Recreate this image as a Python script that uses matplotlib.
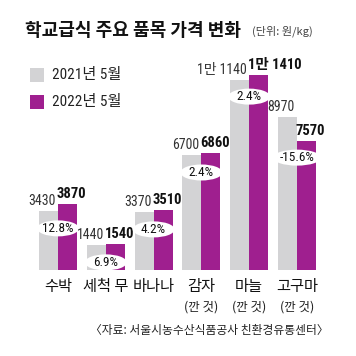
import matplotlib
matplotlib.use("Agg")
import matplotlib.pyplot as plt
from matplotlib import font_manager as fm
from matplotlib.patches import Ellipse, Rectangle
import numpy as np

categories = ["수박", "세척 무", "바나나", "감자", "마늘", "고구마"]
sub_labels = ["", "", "", "(깐 것)", "(깐 것)", "(깐 것)"]
v2021 = [3430, 1440, 3370, 6700, 11140, 8970]
v2022 = [3870, 1540, 3510, 6860, 11410, 7570]
lbl2021 = ["3430", "1440", "3370", "6700", "1만 1140", "8970"]
lbl2022 = ["3870", "1540", "3510", "6860", "1만 1410", "7570"]
pct = ["12.8%", "6.9%", "4.2%", "2.4%", "2.4%", "-15.6%"]
legend_labels = ["2021년 5월", "2022년 5월"]
title = "학교급식 주요 품목 가격 변화"
unit = "(단위: 원/kg)"
source = "〈자료: 서울시농수산식품공사 친환경유통센터〉"

GRAY = "#d3d3d5"
PURPLE = "#9f1f8f"

names = {f.name for f in fm.fontManager.ttflist}
cond = None
for n in ["Liberation Sans Narrow", "DejaVu Sans Condensed", "Roboto Condensed", "Open Sans Condensed"]:
    if n in names:
        cond = n
        break
NUMF = [cond, "Noto Sans CJK KR"] if cond else ["Noto Sans CJK KR"]
KR = ["Noto Sans CJK KR", "DejaVu Sans"]

W = H = 356
fig = plt.figure(figsize=(3.56, 3.56), dpi=100)
fig.patch.set_facecolor("white")

def fx(px):
    return px / W

def fy(py):
    return 1 - py / H

spacing = 47.8
x0 = 58
base = 270
scale = 195 / 11410  # px per unit
ax = fig.add_axes([0, fy(base), 1, base / H])
ax.set_xlim(-x0 / spacing, (W - x0) / spacing)
ax.set_ylim(0, base / scale)
ax.axis("off")

x = np.arange(len(categories))
bw = 19 / spacing
ax.bar(x - bw / 2, v2021, width=bw, color=GRAY, linewidth=0)
ax.bar(x + bw / 2, v2022, width=bw, color=PURPLE, linewidth=0)

unit_px = 1 / scale
for i in range(len(categories)):
    ax.text(x[i] - 2 / spacing, v2021[i] + 3 * unit_px, lbl2021[i], ha="right", va="bottom",
            fontsize=10, color="#333333", family=NUMF)
    ax.text(x[i] - 1 / spacing, v2022[i] + 3 * unit_px, lbl2022[i], ha="left", va="bottom",
            fontsize=10.5, color="#111111", fontweight="bold", family=NUMF)
    ylab = min(v2021[i], v2022[i]) - 17 * unit_px
    ew = (42 if len(pct[i]) < 6 else 48) / spacing
    ax.add_patch(Ellipse((x[i], ylab), ew, 16 * unit_px, facecolor="white", edgecolor="none", zorder=3))
    ax.text(x[i], ylab, pct[i], ha="center", va="center", fontsize=9.5, color="#111111",
            family=NUMF, zorder=4)
    px_c = x0 + spacing * i
    fig.text(fx(px_c), fy(286), categories[i], ha="center", va="center", fontsize=11,
             color="#111111", family=KR)
    if sub_labels[i]:
        fig.text(fx(px_c), fy(307), sub_labels[i], ha="center", va="center", fontsize=9,
                 color="#222222", family=KR)

fig.text(fx(25), fy(30), title, ha="left", va="center", fontsize=13, fontweight="bold",
         color="#111111", family=KR)
fig.text(fx(252), fy(31), unit, ha="left", va="center", fontsize=8, color="#444444", family=KR)

for j, (lab, c) in enumerate(zip(legend_labels, [GRAY, PURPLE])):
    top = 68 + j * 27
    fig.add_artist(Rectangle((fx(30), fy(top + 14)), 14 / W, 14 / H, transform=fig.transFigure,
                             facecolor=c, edgecolor="none"))
    fig.text(fx(52), fy(top + 7), lab, ha="left", va="center", fontsize=11, color="#222222",
             family=NUMF)

fig.text(fx(329), fy(330), source, ha="right", va="center", fontsize=8.5, color="#222222", family=KR)

fig.savefig("out.png", dpi=100, facecolor="white")
